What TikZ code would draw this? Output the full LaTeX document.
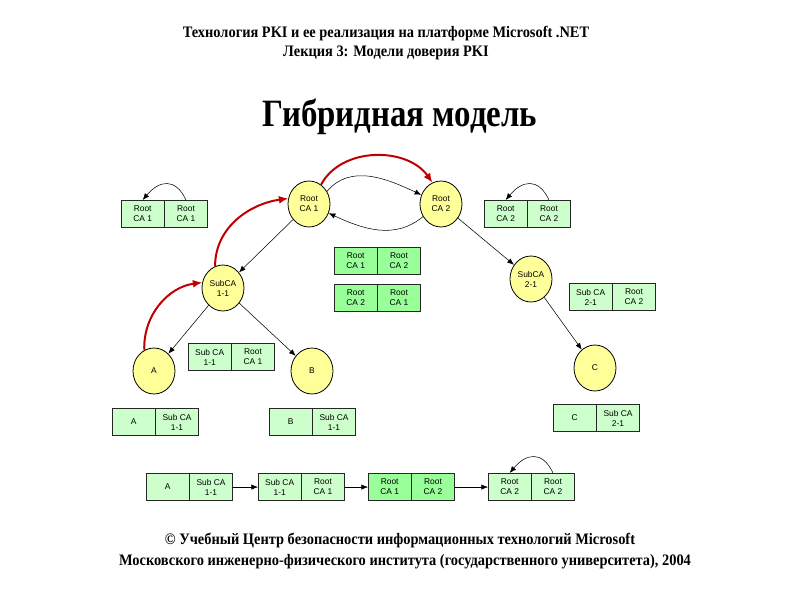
\documentclass[tikz,border=0pt]{standalone}
\usepackage{fontspec}
\setmainfont{Liberation Serif}
\newfontfamily\cellfam{Liberation Sans}
\newfontfamily\ttlfam[FakeStretch=0.9]{Liberation Serif}
\newfontfamily\bigfam[FakeStretch=0.85]{Liberation Serif}
\usetikzlibrary{shapes.geometric,arrows.meta}
\definecolor{lg}{HTML}{CCFFCC}
\definecolor{dg}{HTML}{99FF99}
\definecolor{yel}{HTML}{FFFF99}
\definecolor{redc}{HTML}{C00000}
\tikzset{
 cell/.style={draw=black!85, line width=0.6pt, minimum width=31.9pt, minimum height=20.5pt, inner sep=0pt, font=\cellfam\fontsize{6.3}{7.5}\selectfont, align=center},
 ca/.style={ellipse, draw=black, line width=0.6pt, fill=yel, minimum width=31.5pt, minimum height=34.5pt, inner sep=0pt, font=\cellfam\fontsize{6.3}{7.5}\selectfont, align=center},
 arr/.style={-{Latex[length=5pt,width=4pt]}, line width=0.4pt, draw=black},
 redarr/.style={-{Latex[length=7pt,width=6pt]}, line width=1.5pt, draw=redc},
 ttl/.style={font=\ttlfam\bfseries\fontsize{12}{14}\selectfont},
 bigttl/.style={font=\bigfam\bfseries\fontsize{29}{32}\selectfont},
}
\newcommand\pairbox[6]{%
 \node[cell, fill=#6, anchor=north west] (#1a) at (#2,#3) {#4};
 \node[cell, fill=#6, anchor=north west] (#1b) at (#1a.north east) {#5};
}
\begin{document}
\begin{tikzpicture}[x=0.75pt,y=-0.75pt]
\useasboundingbox (0,0) rectangle (800,600);
% titles
\node[ttl] (t1) at (386,34) {Технология PKI и ее реализация на платформе Microsoft .NET};
\node[ttl] (t2) at (386,53) {Лекция 3: Модели доверия PKI};
\node[bigttl] (t3) at (400,117) {Гибридная модель};
\node[ttl] (f1) at (400,540) {© Учебный Центр безопасности информационных технологий Microsoft};
\node[ttl] (f2) at (405,562) {Московского инженерно-физического института (государственного университета), 2004};
% CAs
\node[ca] (r1) at (309,204) {Root\\CA 1};
\node[ca] (r2) at (441,204) {Root\\CA 2};
\node[ca] (s11) at (223,288) {SubCA\\1-1};
\node[ca] (s21) at (531,279) {SubCA\\2-1};
\node[ca] (A) at (154,371) {A};
\node[ca] (B) at (312,371) {B};
\node[ca] (C) at (595,368) {C};
% boxes
\pairbox{tl}{121}{200}{Root\\CA 1}{Root\\CA 1}{lg}
\pairbox{tr}{484}{200}{Root\\CA 2}{Root\\CA 2}{lg}
\pairbox{ma}{334}{247}{Root\\CA 1}{Root\\CA 2}{dg}
\pairbox{mb}{334}{284}{Root\\CA 2}{Root\\CA 1}{dg}
\pairbox{sa}{188}{343}{Sub CA\\1-1}{Root\\CA 1}{lg}
\pairbox{ab}{112}{408}{A}{Sub CA\\1-1}{lg}
\pairbox{bb}{269}{408}{B}{Sub CA\\1-1}{lg}
\pairbox{sb}{569}{283}{Sub CA\\2-1}{Root\\CA 2}{lg}
\pairbox{cb}{553}{404}{C}{Sub CA\\2-1}{lg}
\pairbox{ca}{146}{473}{A}{Sub CA\\1-1}{lg}
\pairbox{cc}{258}{473}{Sub CA\\1-1}{Root\\CA 1}{lg}
\pairbox{cd}{368}{473}{Root\\CA 1}{Root\\CA 2}{dg}
\pairbox{ce}{488}{473}{Root\\CA 2}{Root\\CA 2}{lg}
% tree arrows
\draw[arr] (r1) -- (s11);
\draw[arr] (s11) -- (A);
\draw[arr] (s11) -- (B);
\draw[arr] (r2) -- (s21);
\draw[arr] (s21) -- (C);
% cross arrows
\draw[arr] (r1.35) to[out=50,in=155] (r2.155);
\draw[arr] (r2.215) to[out=-140,in=-25] (r1.-25);
% red path
\draw[redarr] (A.115) to[out=92,in=188] (s11.165);
\draw[redarr] (s11.110) to[out=90,in=188] (r1.165);
\draw[redarr] (r1.58) to[out=62,in=125] (r2.112);
% self loops
\draw[arr] (tlb.north) to[out=115,in=50,looseness=1.5] (tla.north);
\draw[arr] (trb.north) to[out=115,in=50,looseness=1.5] (tra.north);
\draw[arr] (ceb.north) to[out=115,in=50,looseness=1.5] (cea.north);
% chain
\draw[arr] (cab) -- (cca);
\draw[arr] (ccb) -- (cda);
\draw[arr] (cdb) -- (cea);
\end{tikzpicture}
\end{document}
